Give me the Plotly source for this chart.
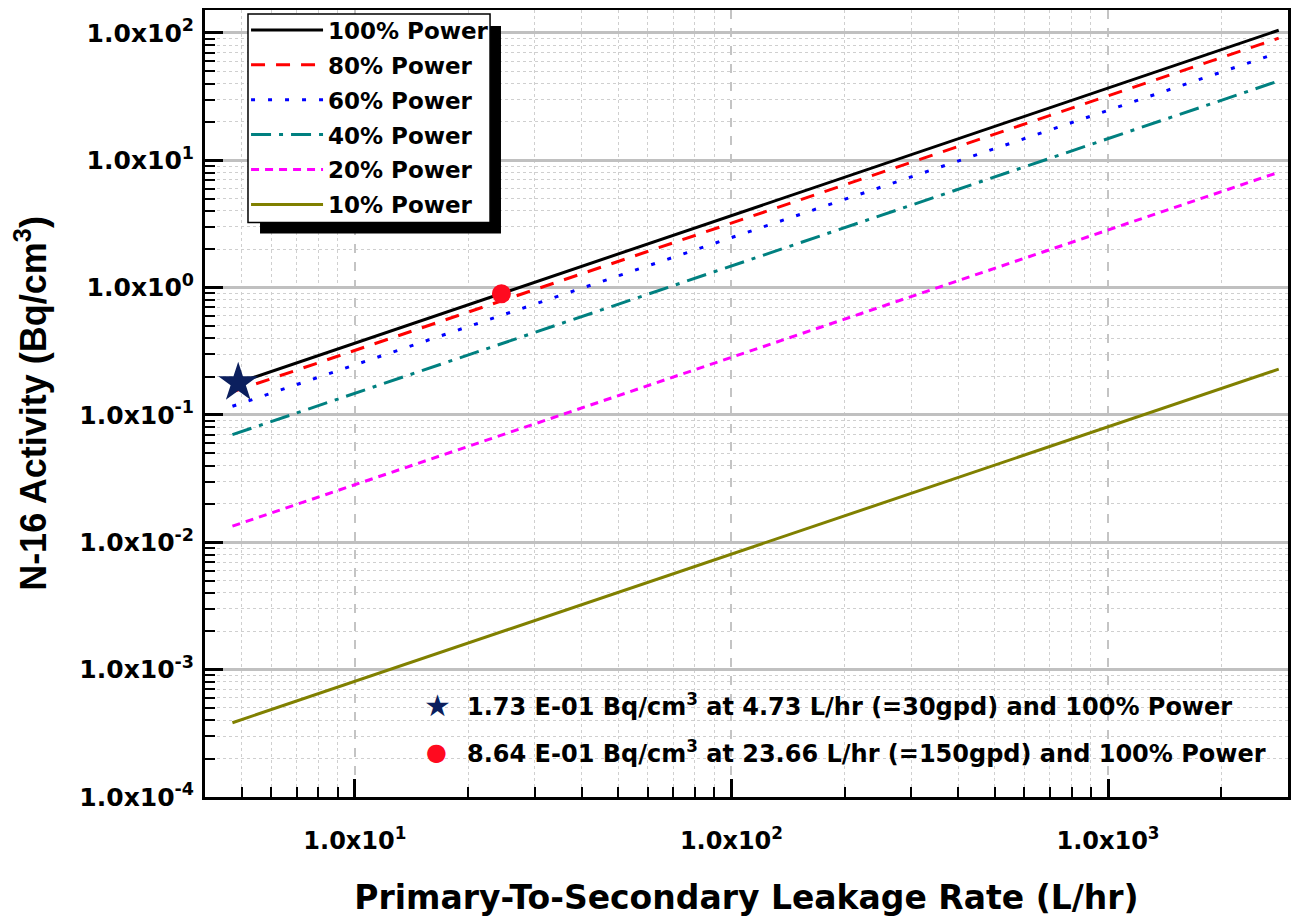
import plotly.graph_objects as go

# Leakage rate endpoints (L/hr) and N-16 activity (Bq/cm3)
leak_rate = [4.73, 2840]
power_labels = ["100% Power", "80% Power", "60% Power", "40% Power", "20% Power", "10% Power"]
act_100 = [0.173, 105.0]
act_80 = [0.152, 91.0]
act_60 = [0.117, 70.0]
act_40 = [0.070, 42.0]
act_20 = [0.0134, 8.05]
act_10 = [0.000383, 0.229]

colors = ["#000000", "#ff0000", "#0000ff", "#008080", "#ff00ff", "#808000"]
dashes = ["solid", "14px,11px", "4px,13px", "20px,8px,4px,8px", "8px,6px", "solid"]

# highlighted points (positions as drawn in the chart)
star_x, star_y = [4.9], [0.179]
dot_x, dot_y = [24.5], [0.895]
star_label = "1.73 E-01 Bq/cm<sup>3</sup> at 4.73 L/hr (=30gpd) and 100% Power"
dot_label = "8.64 E-01 Bq/cm<sup>3</sup> at 23.66 L/hr (=150gpd) and 100% Power"

WIDE = "DejaVu Sans, Verdana, sans-serif"
ARIAL = "Liberation Sans, Arial, sans-serif"

fig = go.Figure()
series = [act_100, act_80, act_60, act_40, act_20, act_10]
for i, (name, vals, c, d) in enumerate(zip(power_labels, series, colors, dashes)):
    fig.add_trace(go.Scatter(x=leak_rate, y=vals, mode="lines", name=name,
                             legendgroup=f"g{i}",
                             line=dict(color=c, width=3, dash=d)))

fig.add_trace(go.Scatter(x=star_x, y=star_y, mode="markers", name="star", showlegend=False,
                         marker=dict(symbol="star", size=30, color="#0b1f5e")))
fig.add_trace(go.Scatter(x=dot_x, y=dot_y, mode="markers", name="dot", showlegend=False,
                         marker=dict(symbol="circle", size=19, color="#ff0a1f")))

ytv = [1e-4, 1e-3, 1e-2, 1e-1, 1e0, 1e1, 1e2]
ytt = ["1.0x10<sup>-4</sup>", "1.0x10<sup>-3</sup>", "1.0x10<sup>-2</sup>", "1.0x10<sup>-1</sup>",
       "1.0x10<sup>0</sup>", "1.0x10<sup>1</sup>", "1.0x10<sup>2</sup>"]
xtv = [1e1, 1e2, 1e3]
xtt = ["1.0x10<sup>1</sup>", "1.0x10<sup>2</sup>", "1.0x10<sup>3</sup>"]

y_minor = [m * 10.0 ** e for e in range(-4, 3) for m in range(2, 10)]
x_minor = [m * 10.0 ** e for e in range(0, 4) for m in range(2, 10)]

fig.update_layout(
    width=1292, height=913,
    margin=dict(l=197, r=12, t=0, b=124),
    paper_bgcolor="white", plot_bgcolor="white",
    font=dict(family=WIDE, size=23, color="black", weight="bold"),
    showlegend=True,
    legend=dict(x=0.0379, y=1.002, xanchor="left", yanchor="top",
                bgcolor="rgba(0,0,0,0)", borderwidth=0,
                font=dict(family=WIDE, size=23, weight="bold"),
                itemwidth=72, tracegroupgap=2, traceorder="grouped"),
    xaxis=dict(type="log", range=[0.602, 3.478],
               showline=True, linecolor="black", linewidth=3, mirror=True,
               ticks="inside", ticklen=18, tickwidth=3, tickcolor="black",
               tickmode="array", tickvals=xtv, ticktext=xtt,
               tickfont=dict(family=WIDE, size=24, weight="bold"),
               ticklabelstandoff=20,
               showgrid=True, gridcolor="#c4c4c4", gridwidth=1.5, griddash="dash",
               minor=dict(tickmode="array", tickvals=x_minor, ticks="inside", ticklen=10,
                          tickwidth=2, tickcolor="black", showgrid=True,
                          gridcolor="#cfcfcf", gridwidth=1, griddash="dot"),
               title=dict(text="Primary-To-Secondary Leakage Rate (L/hr)",
                          font=dict(family=WIDE, size=33, weight="bold"), standoff=33),
               zeroline=False),
    yaxis=dict(type="log", range=[-4, 2.180],
               showline=True, linecolor="black", linewidth=3, mirror=True,
               ticks="inside", ticklen=18, tickwidth=3, tickcolor="black",
               tickmode="array", tickvals=ytv, ticktext=ytt,
               tickfont=dict(family=WIDE, size=25, weight="bold"),
               ticklabelstandoff=3,
               showgrid=True, gridcolor="#c0c0c0", gridwidth=2.5,
               minor=dict(tickmode="array", tickvals=y_minor, ticks="inside", ticklen=10,
                          tickwidth=2, tickcolor="black", showgrid=True,
                          gridcolor="#cfcfcf", gridwidth=1, griddash="dot"),
               title=dict(text="N-16 Activity (Bq/cm<sup>3</sup>)",
                          font=dict(family=ARIAL, size=36, weight="bold"), standoff=26),
               zeroline=False),
    shapes=[
        dict(type="rect", xref="paper", yref="paper", x0=0.0508, x1=0.2733,
             y0=0.7161, y1=0.9797, fillcolor="black", line=dict(width=0), layer="above"),
        dict(type="rect", xref="paper", yref="paper", x0=0.0397, x1=0.2632,
             y0=0.730, y1=0.9949, fillcolor="white", line=dict(color="black", width=1.5),
             layer="above"),
    ],
    annotations=[
        dict(xref="paper", yref="paper", x=0.2145, y=0.1166, text="★", showarrow=False,
             xanchor="center", yanchor="middle",
             font=dict(family=WIDE, size=30, color="#0b1f5e")),
        dict(xref="paper", yref="paper", x=0.2142, y=0.057, text="●", showarrow=False,
             xanchor="center", yanchor="middle",
             font=dict(family=WIDE, size=24, color="#ff0a1f")),
        dict(xref="paper", yref="paper", x=0.2400, y=0.1166, text=star_label, showarrow=False,
             xanchor="left", yanchor="middle",
             font=dict(family=WIDE, size=24, color="black", weight="bold")),
        dict(xref="paper", yref="paper", x=0.2400, y=0.057, text=dot_label, showarrow=False,
             xanchor="left", yanchor="middle",
             font=dict(family=WIDE, size=24, color="black", weight="bold")),
    ],
)

fig.write_html("out.html")
